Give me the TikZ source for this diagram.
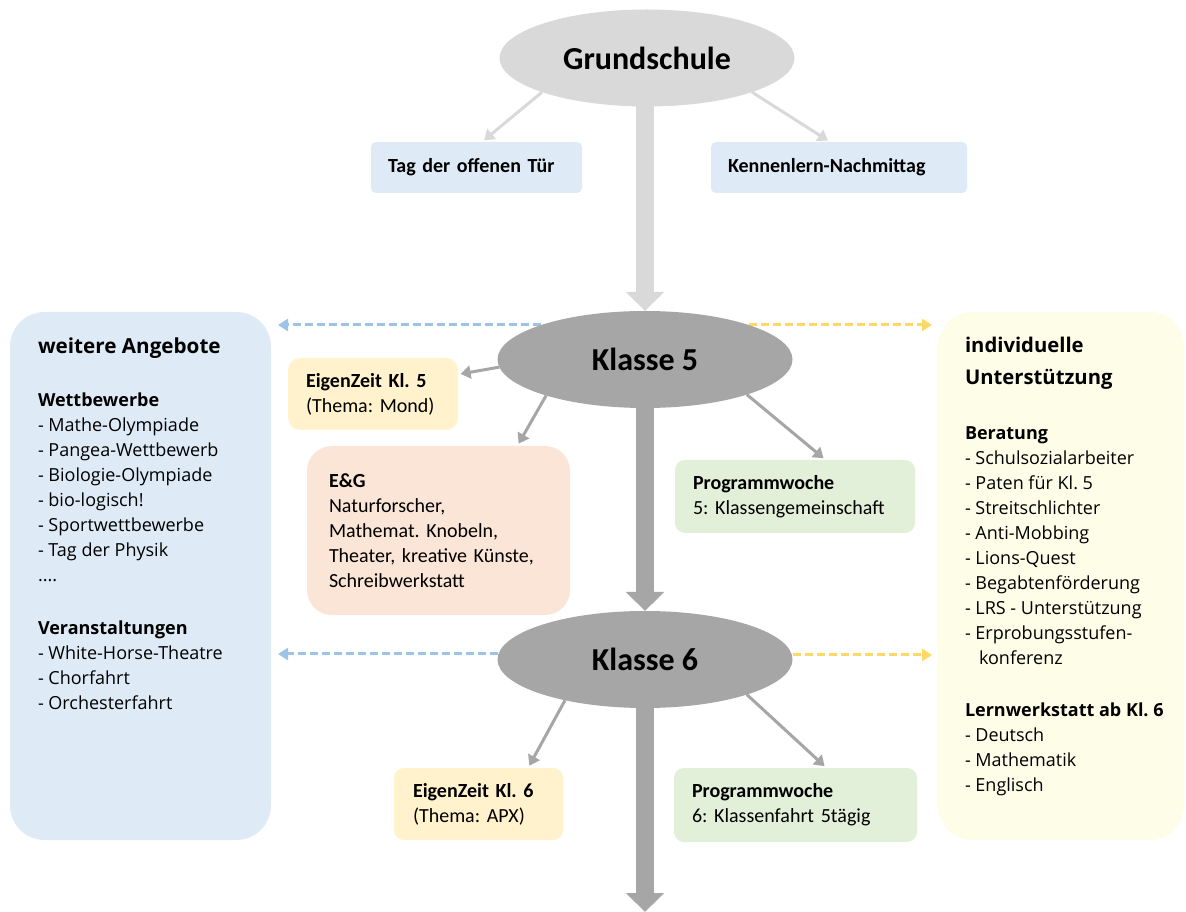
\documentclass[tikz,border=0pt]{standalone}
\usepackage{fontspec}
\setmainfont{Carlito}
\newfontfamily\sidefont{Open Sans}
\usetikzlibrary{arrows.meta,shapes.geometric,calc}
\definecolor{gsgray}{HTML}{D9D9D9}
\definecolor{kgray}{HTML}{A6A6A6}
\definecolor{boxblue}{HTML}{DEEBF7}
\definecolor{boxyellow}{HTML}{FFF2CC}
\definecolor{boxorange}{HTML}{FBE5D6}
\definecolor{boxgreen}{HTML}{E2F0D9}
\definecolor{panelyellow}{HTML}{FEFDE8}
\definecolor{dashblue}{HTML}{9DC3E6}
\definecolor{dashyellow}{HTML}{FFD966}
\pgfdeclarelayer{bg}
\pgfdeclarelayer{paper}
\pgfsetlayers{paper,bg,main}
\frenchspacing
\begin{document}
\frenchspacing
\begin{tikzpicture}[x=0.75pt,y=-0.75pt,
  every node/.style={inner sep=0pt, outer sep=0pt},
  classell/.style={ellipse, minimum width=221.25pt, minimum height=72.75pt,
    font=\fontsize{24}{28}\selectfont\bfseries},
  infobox/.style={rectangle, align=left, font=\frenchspacing\fontsize{15}{18.75}\selectfont},
  panel/.style={rectangle, rounded corners=26pt, minimum width=#1, minimum height=396pt},
  paneltext/.style={anchor=north west, align=left, font=\frenchspacing\sidefont\fontsize{13.5}{18.75}\selectfont},
  bigarrow/.style={line width=13.5pt, -{Triangle[width=27.75pt,length=14.25pt]}},
  thinarrow/.style={line width=2.25pt, -{Triangle[width=9.75pt,length=7.5pt]}, shorten >=2pt},
  dasharrow/.style={line width=2.25pt, dash pattern=on 6pt off 3pt, -{Triangle[width=9pt,length=7.5pt]}}
]
\useasboundingbox (0,0) rectangle (1186,912);
\begin{pgfonlayer}{paper}
  \fill[white] (0,0) rectangle (1186,912);
\end{pgfonlayer}

% side panels
\node[panel=195.75pt, fill=boxblue] (wa) at (140.5,576) {};
\node[panel=184.5pt, fill=panelyellow] (iu) at (1061,576) {};
\node[paneltext] (watext) at (38,338) {%
  {\fontsize{15.5}{18.75}\selectfont\bfseries weitere Angebote}\\[21pt]
  \textbf{Wettbewerbe}\\
  - Mathe-Olympiade\\
  - Pangea-Wettbewerb\\
  - Biologie-Olympiade\\
  - bio-logisch!\\
  - Sportwettbewerbe\\
  - Tag der Physik\\
  ....\\[21pt]
  \textbf{Veranstaltungen}\\
  - White-Horse-Theatre\\
  - Chorfahrt\\
  - Orchesterfahrt};
\node[paneltext] (iutext) at (965,337) {%
  {\fontsize{15.2}{18.75}\selectfont\bfseries individuelle}\\[5.25pt]
  {\fontsize{15.2}{18.75}\selectfont\bfseries Unterstützung}\\[22.5pt]
  \textbf{Beratung}\\
  - Schulsozialarbeiter\\
  - Paten für Kl. 5\\
  - Streitschlichter\\
  - Anti-Mobbing\\
  - Lions-Quest\\
  - Begabtenförderung\\
  - LRS - Unterstützung\\
  - Erprobungsstufen-\\
  \hspace*{10.5pt}konferenz\\[20.25pt]
  \textbf{Lernwerkstatt ab Kl. 6}\\
  - Deutsch\\
  - Mathematik\\
  - Englisch};

% ellipses
\node[classell, fill=gsgray] (gs) at (647,58) {Grundschule};
\node[classell, fill=kgray] (k5) at (645,359.5) {Klasse 5};
\node[classell, fill=kgray] (k6) at (645,659.5) {Klasse 6};

% boxes
\node[infobox, fill=boxblue, rounded corners=3.75pt, minimum width=158.25pt, minimum height=38.25pt, text width=132.75pt]
  (tag) at (476.5,167.5) {\textbf{Tag der offenen Tür}};
\node[infobox, fill=boxblue, rounded corners=3.75pt, minimum width=192pt, minimum height=38.25pt, text width=166.5pt]
  (kn) at (839,167.5) {\textbf{Kennenlern-Nachmittag}};
\node[infobox, fill=boxyellow, rounded corners=9pt, minimum width=127.5pt, minimum height=54pt, text width=100.5pt]
  (ez5) at (373,394) {\textbf{EigenZeit Kl. 5}\\(Thema: Mond)};
\node[infobox, fill=boxorange, rounded corners=18.75pt, minimum width=197.25pt, minimum height=126.75pt, text width=164.25pt]
  (eg) at (438.5,530.5) {\textbf{E\&G}\\Naturforscher,\\Mathemat. Knobeln,\\Theater, kreative Künste,\\Schreibwerkstatt};
\node[infobox, fill=boxgreen, rounded corners=7.5pt, minimum width=180pt, minimum height=54.75pt, text width=153pt]
  (pw5) at (795,496.5) {\textbf{Programmwoche}\\5: Klassengemeinschaft};
\node[infobox, fill=boxyellow, rounded corners=7.5pt, minimum width=126.75pt, minimum height=54pt, text width=98.25pt]
  (ez6) at (478.5,804) {\textbf{EigenZeit Kl. 6}\\(Thema: APX)};
\node[infobox, fill=boxgreen, rounded corners=7.5pt, minimum width=182.25pt, minimum height=55.5pt, text width=155.25pt]
  (pw6) at (795.5,805) {\textbf{Programmwoche}\\6: Klassenfahrt 5tägig};

% free ends
\coordinate (bl5) at (278,325);
\coordinate (ye5) at (932,325);
\coordinate (bl6) at (278,654);
\coordinate (ye6) at (932,655);
\coordinate (bottomend) at (645,912);

\begin{pgfonlayer}{bg}
  \draw[bigarrow, gsgray] (gs.south -| k5.north) -- (k5.north);
  \draw[bigarrow, kgray] (k5.south) -- (k6.north);
  \draw[bigarrow, kgray] (k6.south) -- (bottomend);
  \draw[thinarrow, gsgray] (gs.198) -- (tag.78);
  \draw[thinarrow, gsgray] (gs.342) -- (kn.109);
  \draw[thinarrow, kgray] (k5.183) -- (ez5.13);
  \draw[thinarrow, kgray] (k5.200) -- (eg.47.5);
  \draw[thinarrow, kgray] (k5.341) -- (pw5.50);
  \draw[thinarrow, kgray] (k6.207.4) -- (ez6.36);
  \draw[thinarrow, kgray] (k6.341) -- (pw6.50.5);
  \draw[dasharrow, dashblue] ($(k5.center)+(-103.7,-34.5)$) -- (bl5);
  \draw[dasharrow, dashyellow] ($(k5.center)+(103.7,-34.5)$) -- (ye5);
  \draw[dasharrow, dashblue] (k6.west |- bl6) -- (bl6);
  \draw[dasharrow, dashyellow] (k6.east |- ye6) -- (ye6);
\end{pgfonlayer}
\end{tikzpicture}
\end{document}
